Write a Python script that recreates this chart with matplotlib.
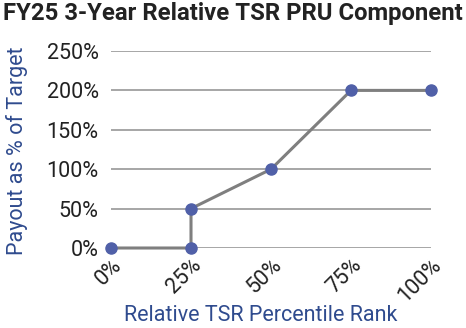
import numpy as np
from matplotlib import pyplot as plt

# datos
rank = [0, 25, 25, 50, 75, 100]
payout = [0, 0, 50, 100, 200, 200]
xticks = [0, 25, 50, 75, 100]
xlabels = ["0%", "25%", "50%", "75%", "100%"]
yticks = [0, 50, 100, 150, 200, 250]
ylabels = ["0%", "50%", "100%", "150%", "200%", "250%"]

plt.rcParams['font.family'] = ['Roboto', 'DejaVu Sans']
azul = "#2F4B8E"

fig = plt.figure(figsize=(4.66, 3.28), dpi=100)
ax = fig.add_axes([111/466, 1-248/328, 320/466, 197/328])

ax.plot(rank, payout, color="#7F7F7F", lw=2.2, marker="o", ms=8,
        mfc="#5060A8", mec="#5060A8", clip_on=False, zorder=3)

ax.set_xlim(0, 100)
ax.set_ylim(0, 250)
ax.set_yticks(yticks)
ax.set_yticklabels(ylabels, fontsize=15.5, color="#222222")
ax.set_xticks(xticks)
ax.set_xticklabels(xlabels, fontsize=15.5, color="#222222", rotation=45,
                   ha="right", rotation_mode="anchor")
ax.tick_params(length=0, axis="y", pad=9)
ax.tick_params(length=0, axis="x", pad=5)
for s in ax.spines.values():
    s.set_visible(False)
ax.grid(axis="y", color="#A6A6A6", lw=1.4)
ax.set_axisbelow(True)

# titulos de ejes puestos a mano
fig.text(261/466, 1-321/328, "Relative TSR Percentile Rank", ha="center", va="baseline",
         fontsize=15.5, color=azul)
fig.text(17/466, 1-151/328, "Payout as % of Target", ha="center", va="center",
         rotation=90, fontsize=15.5, color=azul)
fig.text(0.499, 0.995, "FY25 3-Year Relative TSR PRU Component", ha="center", va="top",
         fontsize=17.2, fontweight="bold", color="#222222")

plt.savefig("out.png", dpi=100)
